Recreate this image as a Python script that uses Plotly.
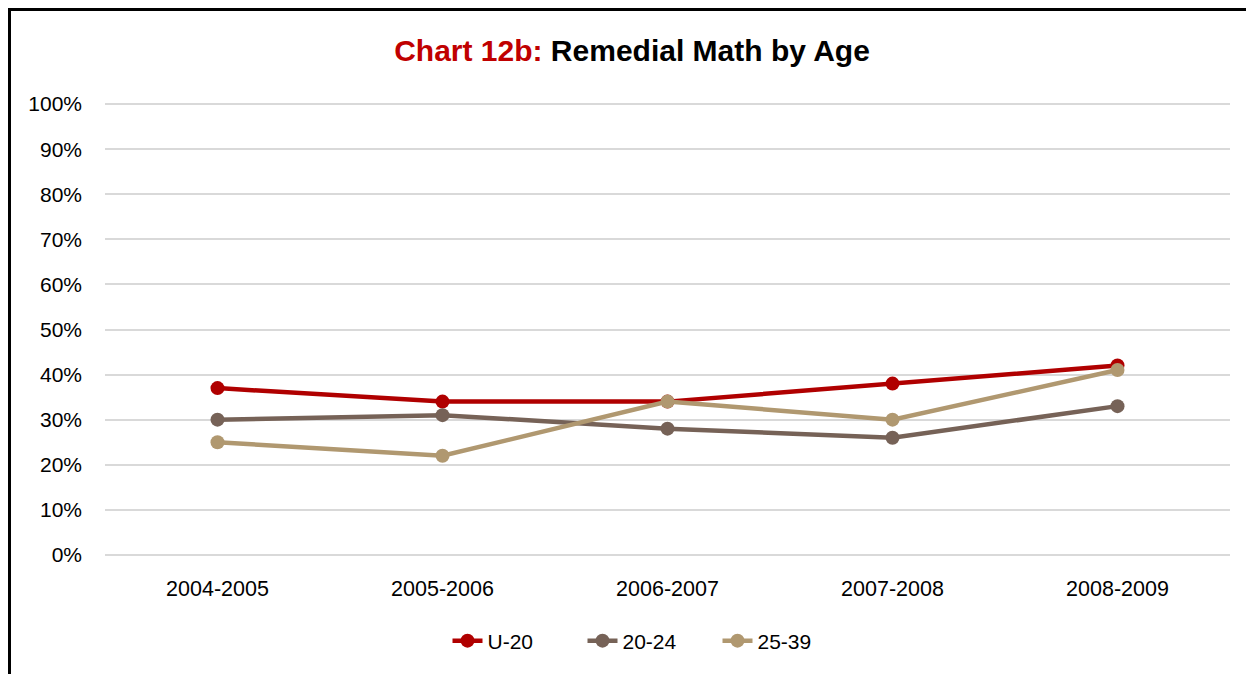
import plotly.graph_objects as go

categories = ["2004-2005", "2005-2006", "2006-2007", "2007-2008", "2008-2009"]
u20 = [37, 34, 34, 38, 42]
a20_24 = [30, 31, 28, 26, 33]
a25_39 = [25, 22, 34, 30, 41]
series_names = ["U-20", "20-24", "25-39"]
colors = ["#B00000", "#766257", "#B09870"]
y_ticks = list(range(0, 101, 10))
y_tick_labels = [f"{v}%" for v in y_ticks]

FONT = "Liberation Sans, Arial, sans-serif"

# page offset of the figure inside the browser page (body margin)
OFF = 8
W, H = 1254 - OFF, 674 - OFF
PAD = 0.25  # small range padding so the 0% and 100% gridlines show
px_per = (555 - 104) / 100.0
L, R = 105 - OFF, 1230 - OFF
T = 104 - OFF - round(PAD * px_per)
B = 555 - OFF + round(PAD * px_per)
PW, PH = R - L, B - T

def py(page_y):
    return (B - (page_y - OFF)) / PH

fig = go.Figure()
for name, vals, col in zip(series_names, [u20, a20_24, a25_39], colors):
    fig.add_trace(go.Scatter(
        x=categories, y=vals, name=name, mode="lines+markers",
        line=dict(color=col, width=4.5),
        marker=dict(color=col, size=14),
    ))

fig.update_layout(
    width=W, height=H,
    margin=dict(l=L, r=W - R, t=T, b=H - B),
    paper_bgcolor="white", plot_bgcolor="white",
    font=dict(family=FONT, size=21, color="#000000"),
    title=dict(
        text="<b><span style='color:#C00000'>Chart 12b:</span> Remedial Math by Age</b>",
        x=(632 - OFF - L) / PW, xref="paper", xanchor="center",
        y=1 - (50 - OFF) / H, yref="container", yanchor="middle",
        font=dict(family=FONT, size=30, color="#000000"),
    ),
    showlegend=True,
    legend=dict(
        orientation="h", x=(650 - OFF - L) / PW, xanchor="center",
        y=py(641), yanchor="middle",
        font=dict(family=FONT, size=21, color="#000000"),
        tracegroupgap=0, entrywidth=90,
    ),
    xaxis=dict(
        range=[-0.5, 4.5],
        showgrid=False, showline=False, zeroline=False,
        ticks="", ticklabelstandoff=17,
        tickfont=dict(family=FONT, size=21.5, color="#000000"),
    ),
    yaxis=dict(
        range=[-PAD, 100 + PAD], tickvals=y_ticks, ticktext=y_tick_labels,
        showgrid=True, gridcolor="#D9D9D9", gridwidth=1.5,
        zeroline=False, showline=False, ticks="", ticklabelstandoff=22,
        tickfont=dict(family=FONT, size=21, color="#000000"),
    ),
    shapes=[dict(
        type="rect", xref="paper", yref="paper",
        x0=(9.5 - OFF - L) / PW, x1=1.1,
        y0=-0.35, y1=py(9.5),
        line=dict(color="#000000", width=3), fillcolor="rgba(0,0,0,0)",
        layer="above",
    )],
)

fig.write_html("out.html")
